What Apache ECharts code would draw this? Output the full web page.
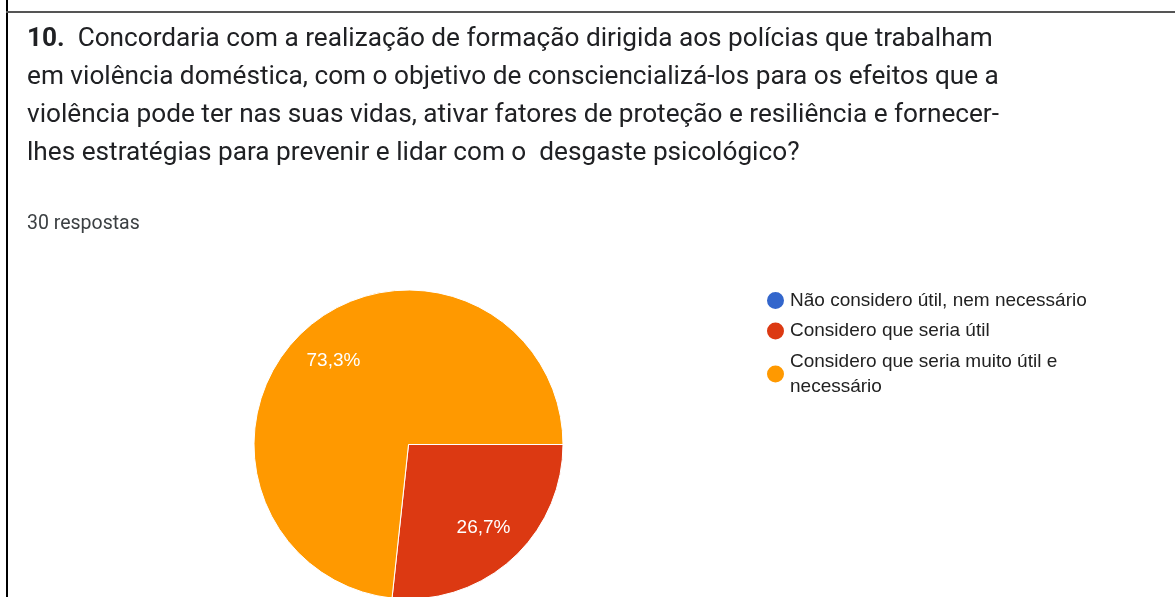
<!DOCTYPE html>
<html>
<head>
<meta charset="utf-8">
<script src="https://cdn.jsdelivr.net/npm/echarts@6/dist/echarts.min.js"></script>
<style>
  html, body { margin: 0; padding: 0; background: #fff; }
  #main { width: 1175px; height: 597px; }
</style>
</head>
<body>
<div id="main"></div>
<script>
const categories = [
  "Não considero útil, nem necessário",
  "Considero que seria útil",
  "Considero que seria muito útil e necessário"
];
const percents = [0, 26.7, 73.3];
const colors = ["#3366cc", "#dc3912", "#ff9900"];
const questionNo = "10.";
const questionLines = [
  "Concordaria com a realização de formação dirigida aos polícias que trabalham",
  "em violência doméstica, com o objetivo de consciencializá-los para os efeitos que a",
  "violência pode ter nas suas vidas, ativar fatores de proteção e resiliência e fornecer-",
  "lhes estratégias para prevenir e lidar com o  desgaste psicológico?"
];
const answers = "30 respostas";

let chart = echarts.init(document.getElementById("main"));

const pieData = categories.map((c, i) => ({
  name: c,
  value: percents[i],
  itemStyle: { color: colors[i] }
}));

let option = {
  animation: false,
  title: [
    {
      left: 27,
      top: 20,
      padding: 0,
      text: "{b|" + questionNo + "}  " + questionLines.join("\n"),
      textStyle: {
        fontFamily: "Roboto",
        fontSize: 26.2,
        fontWeight: "normal",
        color: "#202124",
        lineHeight: 38,
        rich: {
          b: { fontFamily: "Roboto", fontSize: 26.2, fontWeight: "bold", color: "#202124", lineHeight: 38 }
        }
      }
    },
    {
      left: 27,
      top: 213,
      padding: 0,
      text: answers,
      textStyle: { fontFamily: "Roboto", fontSize: 19.5, fontWeight: "normal", color: "#3c4043", lineHeight: 22 }
    }
  ],
  legend: {
    orient: "vertical",
    left: 765,
    top: 288,
    padding: 0,
    icon: "circle",
    itemWidth: 19,
    itemHeight: 19,
    itemGap: 5.5,
    selectedMode: false,
    data: categories,
    textStyle: {
      fontFamily: "Liberation Sans",
      fontSize: 19,
      color: "#222222",
      lineHeight: 25,
      width: 335,
      overflow: "break"
    }
  },
  graphic: [
    { type: "line", shape: { x1: 7, y1: 0, x2: 7, y2: 597 }, style: { stroke: "#000", lineWidth: 2 } },
    { type: "line", shape: { x1: 6, y1: 12, x2: 1175, y2: 12 }, style: { stroke: "#555", lineWidth: 2 } }
  ],
  series: [
    {
      type: "pie",
      center: [408.5, 444.5],
      radius: [0, 154.5],
      startAngle: 0,
      clockwise: true,
      silent: true,
      label: { show: false },
      labelLine: { show: false },
      itemStyle: { borderColor: "#fff", borderWidth: 1 },
      data: pieData
    },
    {
      type: "pie",
      center: [408.5, 444.5],
      radius: [64, 154.5],
      startAngle: 0,
      clockwise: true,
      silent: true,
      z: 3,
      itemStyle: { color: "rgba(0,0,0,0)" },
      label: {
        show: true,
        position: "inside",
        fontFamily: "Liberation Sans",
        fontSize: 19,
        color: "#fff",
        formatter: p => p.value > 0 ? p.value.toFixed(1).replace(".", ",") + "%" : ""
      },
      labelLine: { show: false },
      data: categories.map((c, i) => ({ name: c, value: percents[i] }))
    }
  ]
};

option && chart.setOption(option);
</script>
</body>
</html>
